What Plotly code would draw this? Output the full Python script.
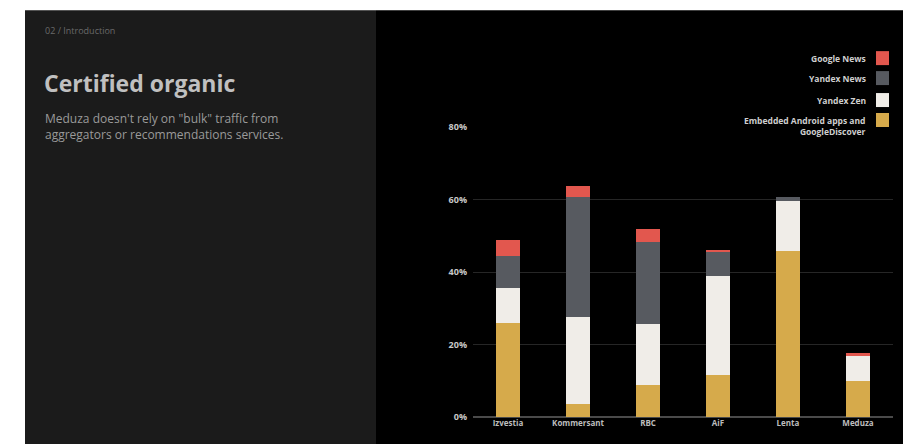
import plotly.graph_objects as go

categories = ["Izvestia", "Kommersant", "RBC", "AiF", "Lenta", "Meduza"]
android_discover = [26.0, 3.5, 8.9, 11.6, 45.7, 9.8]
yandex_zen = [9.5, 24.1, 16.8, 27.2, 13.8, 7.3]
yandex_news = [8.8, 33.1, 22.7, 6.9, 1.2, 0.0]
google_news = [4.4, 3.0, 3.4, 0.5, 0.0, 0.5]
y_ticks = [0, 20, 40, 60, 80]
y_tick_labels = ["0%", "20%", "40%", "60%", "80%"]

series = [
    ("Embedded Android apps and<br>GoogleDiscover", android_discover, "#d6aa4b"),
    ("Yandex Zen", yandex_zen, "#f0ede8"),
    ("Yandex News", yandex_news, "#575a60"),
    ("Google News", google_news, "#e2574e"),
]

OFF = 8  # page body margin
W, H = 911 - OFF, 444 - OFF
L, R, T, B = 473 - OFF, 18, 127 - OFF, 26.5
pw, ph = W - L - R, H - T - B

def px(x):
    return (x - OFF - L) / pw

def py(y):
    return (H - B - (y - OFF)) / ph

fig = go.Figure()
for name, vals, col in series:
    fig.add_trace(go.Bar(x=categories, y=vals, name=name, marker_color=col,
                         marker_line_width=0, showlegend=False))

shapes = [
    dict(type="rect", xref="paper", yref="paper", x0=px(25), x1=px(376), y0=py(445), y1=py(10),
         fillcolor="#1b1b1b", line_width=0, layer="below"),
    dict(type="rect", xref="paper", yref="paper", x0=px(376), x1=px(907), y0=py(445), y1=py(10),
         fillcolor="#000000", line_width=0, layer="below"),
]
annotations = [
    dict(text="02 / Introduction", x=px(43), y=py(30), xref="paper", yref="paper", xanchor="left",
         yanchor="middle", showarrow=False, font=dict(family="Open Sans", size=9, color="#6a6a6a")),
    dict(text="<b>Certified organic</b>", x=px(42), y=py(83), xref="paper", yref="paper",
         xanchor="left", yanchor="middle", showarrow=False,
         font=dict(family="Open Sans", size=23, color="#c0c0c0")),
    dict(text="Meduza doesn't rely on \"bulk\" traffic from<br>aggregators or recommendations services.",
         x=px(43), y=py(126), xref="paper", yref="paper", xanchor="left", yanchor="middle",
         align="left", showarrow=False, font=dict(family="Open Sans", size=12, color="#9a9a9a")),
]

# custom legend (text on the left, swatch on the right)
legend_rows = [("Google News", "#e2574e", 58), ("Yandex News", "#575a60", 78),
               ("Yandex Zen", "#f0ede8", 100),
               ("Embedded Android apps and<br>GoogleDiscover", "#d6aa4b", 120)]
for text, col, yc in legend_rows:
    shapes.append(dict(type="rect", xref="paper", yref="paper", x0=px(876), x1=px(889),
                       y0=py(yc + 7), y1=py(yc - 7), fillcolor=col, line_width=0))
    ty = yc + 6 if "<br>" in text else yc
    annotations.append(dict(text="<b>" + text + "</b>",
                            x=px(868), y=py(ty), xref="paper", yref="paper",
                            xanchor="right", yanchor="middle", align="right", showarrow=False,
                            font=dict(family="Open Sans", size=8.5, color="#cfcfcf")))

fig.update_layout(
    width=W, height=H,
    margin=dict(l=L, r=R, t=T, b=B, pad=0),
    paper_bgcolor="#ffffff", plot_bgcolor="rgba(0,0,0,0)",
    barmode="stack", bargap=0.66,
    shapes=shapes, annotations=annotations,
    font=dict(family="Open Sans", color="#cfcfcf"),
    xaxis=dict(showgrid=False, showline=False, zeroline=False, ticks="",
               ticktext=["<b>%s</b>" % c for c in categories], tickvals=categories,
               tickfont=dict(family="Open Sans", size=8, color="#bdbdbd"), fixedrange=True),
    yaxis=dict(range=[0, 80], tickvals=y_ticks, ticktext=["<b>%s</b>" % t for t in y_tick_labels],
               showgrid=True, gridcolor="#262626", gridwidth=1,
               zeroline=True, zerolinecolor="#4a4a4a", zerolinewidth=1.5,
               showline=False, ticks="", ticklabelstandoff=5,
               tickfont=dict(family="Open Sans", size=9, color="#c8c8c8")),
)

fig.write_html("out.html")
